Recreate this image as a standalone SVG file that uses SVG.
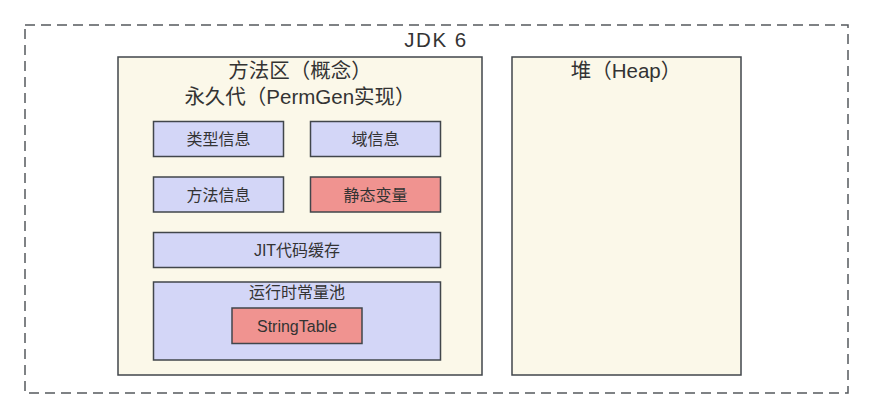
<svg xmlns="http://www.w3.org/2000/svg" width="873" height="419" viewBox="0 0 873 419">
<style>
text{font-family:"Liberation Sans","Noto Sans CJK SC",sans-serif;fill:#333;text-anchor:middle}
.area{fill:#fbf8e9;stroke:#41464b;stroke-width:1.5}
.blue{fill:#d3d6f7;stroke:#41464b;stroke-width:1.5}
.red{fill:#f09390;stroke:#41464b;stroke-width:1.5}
.t20{font-size:20.5px}
.t16{font-size:16px}
</style>
<rect width="873" height="419" fill="#fff"/>
<g id="jdk6">
<rect x="25" y="25" width="823" height="368" fill="none" stroke="#55595e" stroke-width="1.5" stroke-dasharray="10 6"/>
<text class="t20" x="436" y="47" letter-spacing="1.5">JDK 6</text>
</g>
<g id="method-area">
<rect class="area" x="118" y="57" width="364" height="318"/>
<text class="t20" x="300" y="78">方法区（概念）</text>
<text class="t20" x="300" y="104">永久代（PermGen实现）</text>
</g>
<g id="heap">
<rect class="area" x="512" y="57" width="229" height="318"/>
<text class="t20" x="626" y="78">堆（Heap）</text>
</g>
<g id="type-info">
<rect class="blue" x="153.5" y="121.5" width="130" height="35"/>
<text class="t16" x="218.5" y="145">类型信息</text>
</g>
<g id="field-info">
<rect class="blue" x="310.5" y="121.5" width="130" height="35"/>
<text class="t16" x="375.5" y="145">域信息</text>
</g>
<g id="method-info">
<rect class="blue" x="153.5" y="177" width="130" height="35"/>
<text class="t16" x="218.5" y="200.5">方法信息</text>
</g>
<g id="static-vars">
<rect class="red" x="310.5" y="177" width="130" height="35"/>
<text class="t16" x="375.5" y="200.5">静态变量</text>
</g>
<g id="jit-cache">
<rect class="blue" x="153.5" y="232.5" width="287" height="35"/>
<text class="t16" x="297" y="256">JIT代码缓存</text>
</g>
<g id="runtime-pool">
<rect class="blue" x="153.5" y="282" width="287" height="78"/>
<text class="t16" x="297" y="298">运行时常量池</text>
</g>
<g id="string-table">
<rect class="red" x="232" y="308" width="130" height="35.5"/>
<text class="t16" x="297" y="332">StringTable</text>
</g>
<g id="connectors"/>
</svg>
